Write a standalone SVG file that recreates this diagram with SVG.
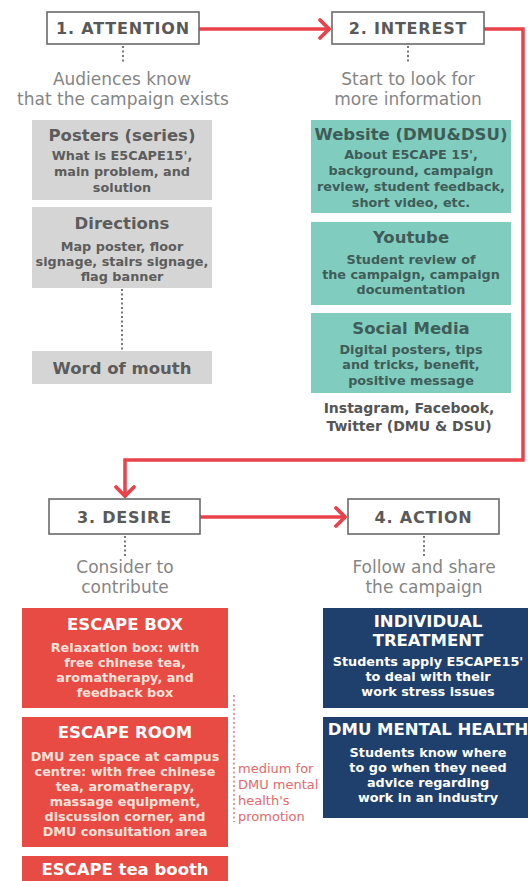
<svg xmlns="http://www.w3.org/2000/svg" width="528" height="881" viewBox="0 0 528 881">
<style>
text{font-family:"DejaVu Sans","Liberation Sans",sans-serif;text-anchor:middle}
.stage rect{fill:#fff;stroke:#6a6a6a;stroke-width:1.6}
.stage text{font-size:16px;font-weight:bold;fill:#595959;letter-spacing:0.8px}
.desc{font-size:17px;fill:#858585}
.t{font-size:16.5px;font-weight:bold}
.s{font-size:12.8px;font-weight:bold}
.gray rect{fill:#d5d5d5}
.gray text{fill:#5c5c5c}
.teal rect{fill:#80ccbf}
.teal text{fill:#3f5c58}
.red rect{fill:#e84b43}
.red .t{fill:#ffffff}
.red .s{fill:#fbe2da}
.blue rect{fill:#1f3f6d}
.blue text{fill:#ffffff}
.dot{stroke:#777;stroke-width:2;stroke-dasharray:2 2.5;fill:none}
.flow{stroke:#e8424a;stroke-width:3.5;fill:none;marker-end:url(#chev)}
.note{font-size:13px;fill:#e26a6a;text-anchor:start}
</style>
<defs>
<marker id="chev" markerUnits="userSpaceOnUse" markerWidth="16" markerHeight="22" refX="12" refY="10" orient="auto" overflow="visible">
<path d="M2,1 L11,10 L2,19" fill="none" stroke="#e8424a" stroke-width="3.8" stroke-linecap="round" stroke-linejoin="miter"/>
</marker>
</defs>

<g id="connectors">
<path class="flow" d="M199,29 H330"/>
<path class="flow" d="M484,29 H523 V460 H125 V497"/>
<path class="flow" d="M200,517 H346"/>
<path class="dot" d="M123,46 V64"/>
<path class="dot" d="M408,46 V64"/>
<path class="dot" d="M122,289 V350"/>
<path class="dot" d="M125,536 V556"/>
<path class="dot" d="M424,536 V556"/>
<path d="M234,695 V822" stroke="#e49a9a" stroke-width="2" stroke-dasharray="2 2.5" fill="none"/>
</g>

<g id="attention" class="stage"><rect x="47" y="12" width="152" height="32"/><text x="123" y="34">1. ATTENTION</text></g>
<g id="interest" class="stage"><rect x="332" y="12" width="152" height="32"/><text x="408" y="34">2. INTEREST</text></g>
<g id="desire" class="stage"><rect x="49" y="499" width="151" height="35"/><text x="124.5" y="523">3. DESIRE</text></g>
<g id="action" class="stage"><rect x="348" y="499" width="151" height="35"/><text x="423.5" y="523">4. ACTION</text></g>

<g id="attention-desc"><text class="desc" x="122" y="85">Audiences know</text><text class="desc" x="123" y="105">that the campaign exists</text></g>
<g id="interest-desc"><text class="desc" x="408" y="85">Start to look for</text><text class="desc" x="408" y="105">more information</text></g>
<g id="desire-desc"><text class="desc" x="125" y="573">Consider to</text><text class="desc" x="125" y="593">contribute</text></g>
<g id="action-desc"><text class="desc" x="424" y="573">Follow and share</text><text class="desc" x="424" y="593">the campaign</text></g>

<g id="posters" class="gray"><rect x="32" y="120" width="180" height="80"/>
<text class="t" x="122" y="141">Posters (series)</text>
<text class="s" x="122" y="160">What is E5CAPE15',</text>
<text class="s" x="122" y="176">main problem, and</text>
<text class="s" x="122" y="192">solution</text></g>
<g id="directions" class="gray"><rect x="32" y="207" width="180" height="81"/>
<text class="t" x="122" y="229">Directions</text>
<text class="s" x="122" y="251">Map poster, floor</text>
<text class="s" x="122" y="266">signage, stairs signage,</text>
<text class="s" x="122" y="281">flag banner</text></g>
<g id="word-of-mouth" class="gray"><rect x="32" y="351" width="180" height="33"/>
<text class="t" x="122" y="374">Word of mouth</text></g>

<g id="website" class="teal"><rect x="311" y="120" width="200" height="93"/>
<text class="t" x="411" y="140">Website (DMU&amp;DSU)</text>
<text class="s" x="411" y="159">About E5CAPE 15',</text>
<text class="s" x="411" y="175">background, campaign</text>
<text class="s" x="411" y="191">review, student feedback,</text>
<text class="s" x="411" y="207">short video, etc.</text></g>
<g id="youtube" class="teal"><rect x="311" y="222" width="200" height="83"/>
<text class="t" x="411" y="243">Youtube</text>
<text class="s" x="411" y="264">Student review of</text>
<text class="s" x="411" y="279">the campaign, campaign</text>
<text class="s" x="411" y="294">documentation</text></g>
<g id="social-media" class="teal"><rect x="311" y="313" width="200" height="80"/>
<text class="t" x="411" y="334">Social Media</text>
<text class="s" x="411" y="354">Digital posters, tips</text>
<text class="s" x="411" y="369">and tricks, benefit,</text>
<text class="s" x="411" y="385">positive message</text></g>
<g id="platforms"><text x="409" y="413" font-size="14" font-weight="bold" fill="#555">Instagram, Facebook,</text>
<text x="409" y="431" font-size="14" font-weight="bold" fill="#555">Twitter (DMU &amp; DSU)</text></g>

<g id="escape-box" class="red"><rect x="22" y="608" width="206" height="100"/>
<text class="t" x="125" y="630">ESCAPE BOX</text>
<text class="s" x="125" y="652">Relaxation box: with</text>
<text class="s" x="125" y="667">free chinese tea,</text>
<text class="s" x="125" y="682">aromatherapy, and</text>
<text class="s" x="125" y="697">feedback box</text></g>
<g id="escape-room" class="red"><rect x="22" y="717" width="206" height="130"/>
<text class="t" x="125" y="738">ESCAPE ROOM</text>
<text class="s" x="125" y="761">DMU zen space at campus</text>
<text class="s" x="125" y="776">centre: with free chinese</text>
<text class="s" x="125" y="791">tea, aromatherapy,</text>
<text class="s" x="125" y="806">massage equipment,</text>
<text class="s" x="125" y="821">discussion corner, and</text>
<text class="s" x="125" y="836">DMU consultation area</text></g>
<g id="escape-tea-booth" class="red"><rect x="22" y="856" width="206" height="30"/>
<text class="t" x="125" y="875">ESCAPE tea booth</text></g>

<g id="medium-note"><text class="note" x="238" y="773">medium for</text>
<text class="note" x="238" y="789">DMU mental</text>
<text class="note" x="238" y="805">health's</text>
<text class="note" x="238" y="821">promotion</text></g>

<g id="individual-treatment" class="blue"><rect x="323" y="608" width="215" height="100"/>
<text class="t" x="428" y="627">INDIVIDUAL</text>
<text class="t" x="428" y="646">TREATMENT</text>
<text class="s" x="428" y="666">Students apply E5CAPE15'</text>
<text class="s" x="428" y="681">to deal with their</text>
<text class="s" x="428" y="696">work stress issues</text></g>
<g id="dmu-mental-health" class="blue"><rect x="323" y="717" width="215" height="101"/>
<text class="t" x="428" y="735">DMU MENTAL HEALTH</text>
<text class="s" x="428" y="757">Students know where</text>
<text class="s" x="428" y="772">to go when they need</text>
<text class="s" x="428" y="787">advice regarding</text>
<text class="s" x="428" y="802">work in an industry</text></g>
</svg>
